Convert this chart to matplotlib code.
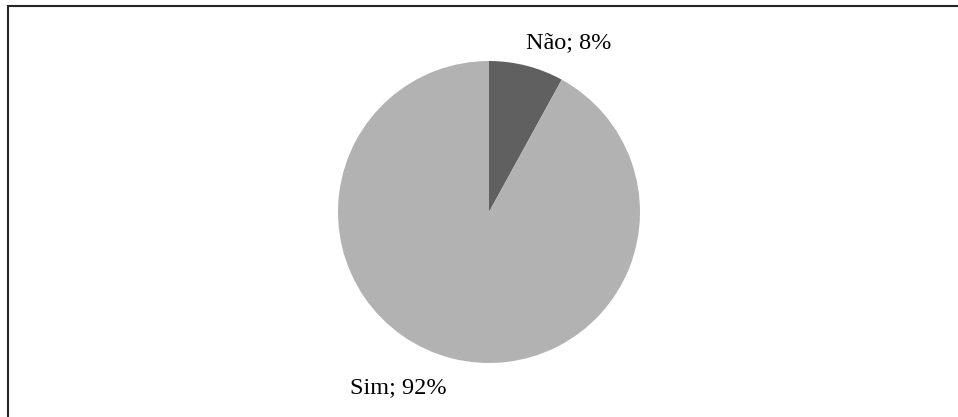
import matplotlib.pyplot as plt
from matplotlib.patches import Rectangle

categorias = ["Não", "Sim"]
percentuais = [8, 92]
cores = ["#606060", "#b2b2b2"]

W, H = 958, 417
fig = plt.figure(figsize=(W / 100, H / 100), dpi=100)
fig.patch.set_facecolor("white")

# moldura do gráfico (cortada à direita e embaixo)
fig.patches.append(Rectangle((8 / W, -0.1), 1.2, 1 - 6 / H + 0.1, transform=fig.transFigure,
                             fill=False, edgecolor="#262626", linewidth=1.5))

# título, quase todo fora da área visível
fig.text(12 / W, 1 + 3 / H, "Gráfico 6 – Possui Orçamento", fontsize=12, fontweight="bold",
         color="#777777", family="Liberation Sans", va="baseline")

cx, cy, r = 489, 212, 151
ax = fig.add_axes([(cx - r) / W, (H - cy - r) / H, 2 * r / W, 2 * r / H])
ax.pie(percentuais, colors=cores, startangle=90, counterclock=False, radius=1,
       wedgeprops=dict(linewidth=0))
ax.set_xlim(-1, 1)
ax.set_ylim(-1, 1)
ax.set_aspect("equal")
ax.axis("off")

# rótulos "categoria; valor%"
posicoes = [(0.53, 1.12), (-0.60, -1.16)]
for cat, p, (x, y) in zip(categorias, percentuais, posicoes):
    ax.text(x, y, f"{cat}; {p}%", ha="center", va="center", fontsize=17.5,
            family="Liberation Serif", color="black", clip_on=False)

fig.savefig("out.png", dpi=100)
